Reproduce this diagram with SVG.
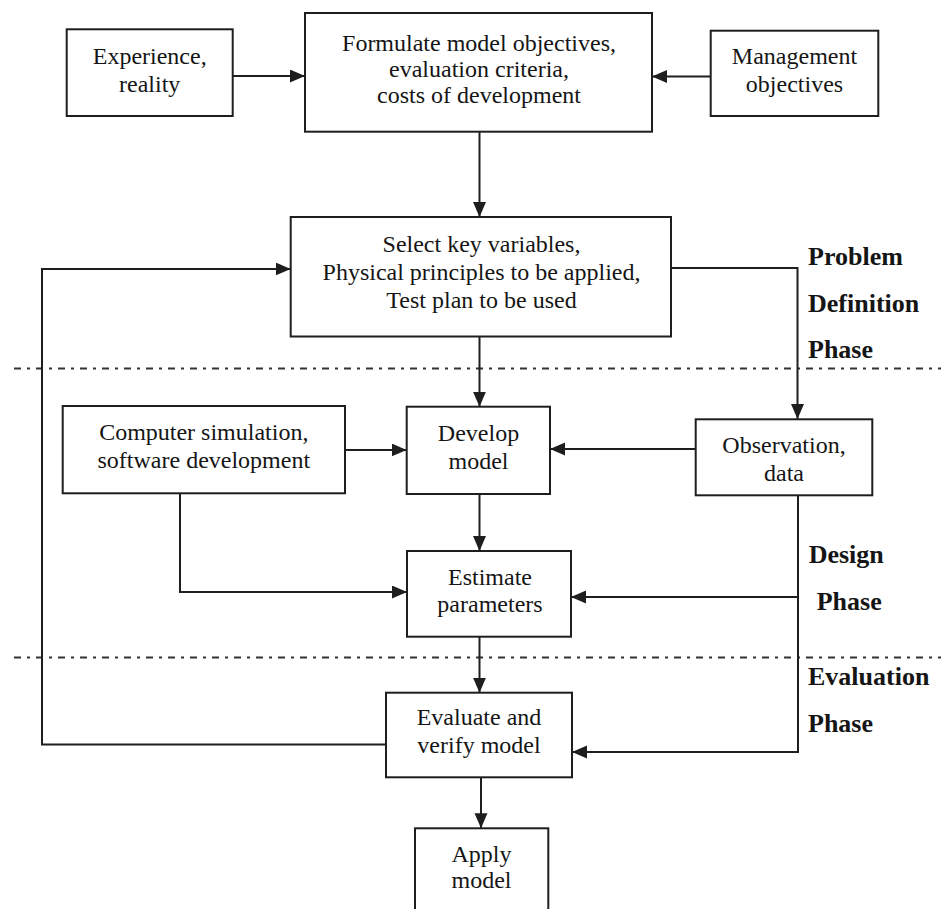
<svg xmlns="http://www.w3.org/2000/svg" width="941" height="909" viewBox="0 0 941 909">
<style>
.box{fill:#fff;stroke:#1e1e1e;stroke-width:2}
.t{font-family:"Liberation Serif","Times New Roman",serif;font-size:24px;fill:#151515;text-anchor:middle}
.ph{font-family:"Liberation Serif","Times New Roman",serif;font-size:26px;font-weight:bold;fill:#151515}
.c{fill:none;stroke:#1e1e1e;stroke-width:2}
.a{marker-end:url(#arr)}
.dd{fill:none;stroke:#333;stroke-width:2;stroke-dasharray:7 6 3 6}
</style>
<defs>
<marker id="arr" markerUnits="userSpaceOnUse" markerWidth="16" markerHeight="14" refX="15" refY="6.5" orient="auto">
<path d="M0,0 L15,6.5 L0,13 z" fill="#1e1e1e"/>
</marker>
</defs>
<rect width="941" height="909" fill="#fff"/>
<g id="phase-lines">
<line class="dd" x1="14" y1="368.5" x2="941" y2="368.5"/>
<line class="dd" x1="14" y1="657.5" x2="941" y2="657.5"/>
</g>
<g id="connectors">
<line class="c a" x1="233" y1="76" x2="305" y2="76"/>
<line class="c a" x1="711" y1="76.5" x2="652" y2="76.5"/>
<line class="c a" x1="479.5" y1="131.7" x2="479.5" y2="217"/>
<line class="c a" x1="479.5" y1="336.5" x2="479.5" y2="406.7"/>
<path class="c a" d="M671,268 H797.5 V419"/>
<line class="c a" x1="345" y1="450" x2="406.7" y2="450"/>
<line class="c a" x1="695.7" y1="449" x2="550" y2="449"/>
<line class="c a" x1="479.5" y1="494" x2="479.5" y2="551"/>
<path class="c a" d="M180,493.3 V592 H407"/>
<path class="c a" d="M798,597 H571"/>
<path class="c a" d="M798,495.3 V752 H572"/>
<line class="c a" x1="479.5" y1="636.7" x2="479.5" y2="692.7"/>
<path class="c a" d="M386,744.5 H42 V269 H290.7"/>
<line class="c a" x1="481" y1="777.3" x2="481" y2="828.3"/>
</g>
<g id="experience">
<rect class="box" x="66.7" y="29.3" width="166" height="86.7"/>
<text class="t" x="149.7" y="63.5">Experience,</text>
<text class="t" x="149.7" y="91.5">reality</text>
</g>
<g id="formulate">
<rect class="box" x="305" y="13" width="347" height="118.7"/>
<text class="t" x="479" y="51">Formulate model objectives,</text>
<text class="t" x="479" y="77">evaluation criteria,</text>
<text class="t" x="479" y="103">costs of development</text>
</g>
<g id="management">
<rect class="box" x="710.7" y="30.7" width="167.6" height="85.3"/>
<text class="t" x="794.5" y="64">Management</text>
<text class="t" x="794.5" y="91.7">objectives</text>
</g>
<g id="select">
<rect class="box" x="290.7" y="217" width="380.3" height="119.5"/>
<text class="t" x="481.5" y="251.5">Select key variables,</text>
<text class="t" x="481.5" y="279.5">Physical principles to be applied,</text>
<text class="t" x="481.5" y="307.5">Test plan to be used</text>
</g>
<g id="problem-label">
<text class="ph" x="808" y="265">Problem</text>
<text class="ph" x="808" y="311.7">Definition</text>
<text class="ph" x="808" y="358.3">Phase</text>
</g>
<g id="computer">
<rect class="box" x="62.7" y="406" width="282.3" height="87.3"/>
<text class="t" x="203.8" y="440">Computer simulation,</text>
<text class="t" x="203.8" y="468.3">software development</text>
</g>
<g id="develop">
<rect class="box" x="406.7" y="406.7" width="143.3" height="87.3"/>
<text class="t" x="478.5" y="441">Develop</text>
<text class="t" x="478.5" y="469">model</text>
</g>
<g id="observation">
<rect class="box" x="695.7" y="419.3" width="176.6" height="76"/>
<text class="t" x="784" y="453.3">Observation,</text>
<text class="t" x="784" y="480.7">data</text>
</g>
<g id="estimate">
<rect class="box" x="407" y="551" width="164" height="85.7"/>
<text class="t" x="490" y="585">Estimate</text>
<text class="t" x="490" y="612">parameters</text>
</g>
<g id="design-label">
<text class="ph" x="808.7" y="563.3">Design</text>
<text class="ph" x="816.7" y="610">Phase</text>
</g>
<g id="evaluation-label">
<text class="ph" x="808" y="685">Evaluation</text>
<text class="ph" x="808" y="731.7">Phase</text>
</g>
<g id="evaluate">
<rect class="box" x="386" y="692.7" width="186" height="84.6"/>
<text class="t" x="479" y="725">Evaluate and</text>
<text class="t" x="479" y="752.7">verify model</text>
</g>
<g id="apply">
<rect class="box" x="415" y="828.3" width="133.3" height="95"/>
<text class="t" x="481.5" y="861.7">Apply</text>
<text class="t" x="481.5" y="888.3">model</text>
</g>
</svg>
